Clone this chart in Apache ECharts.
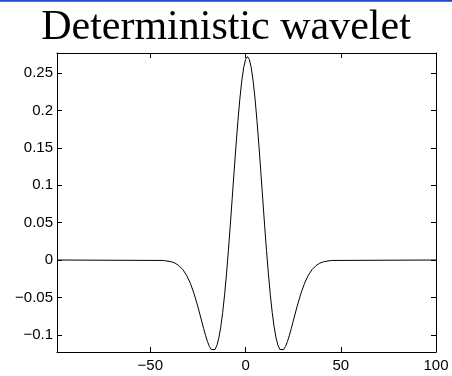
<!DOCTYPE html>
<html>
<head>
<meta charset="utf-8">
<script src="https://cdn.jsdelivr.net/npm/echarts@6/dist/echarts.min.js"></script>
<style>
  html, body { margin: 0; padding: 0; background: #fff; }
  #chart { width: 452px; height: 376px; }
</style>
</head>
<body>
<div id="chart"></div>
<script>
// sample positions (x) and wavelet amplitude
const xs = [-99, -43, -39, -37, -35, -33, -31, -29, -27, -25, -23, -22, -21, -20,
  -19, -18, -17, -16, -15, -14, -13, -12, -11, -10, -9, -8, -7, -6, -5, -4, -3, -2, -1,
  0, 1, 2, 3, 4, 5, 6, 7, 8, 9, 10, 11, 12, 13, 14, 15, 16, 17, 18, 19, 20, 21,
  22, 23, 24, 25, 27, 29, 31, 33, 35, 37, 39, 41, 45, 100];
const ys = [0, -0.0006, -0.0023, -0.0042, -0.0075, -0.0126, -0.0202, -0.0310, -0.0453, -0.0627, -0.0820, -0.0917, -0.1008, -0.1090,
  -0.1155, -0.1198, -0.1214, -0.1196, -0.1139, -0.1039, -0.0893, -0.0701, -0.0464, -0.0185, 0.0129, 0.0469, 0.0826, 0.1186, 0.1536, 0.1863, 0.2152, 0.2392, 0.2571,
  0.2682, 0.2720, 0.2682, 0.2571, 0.2392, 0.2152, 0.1863, 0.1536, 0.1186, 0.0826, 0.0469, 0.0129, -0.0185, -0.0464, -0.0701, -0.0893, -0.1039, -0.1139, -0.1196, -0.1214, -0.1198,
  -0.1155, -0.1090, -0.1008, -0.0917, -0.0820, -0.0627, -0.0453, -0.0310, -0.0202, -0.0126, -0.0075, -0.0042, -0.0023, -0.0006, 0];
const xTicks = [-50, 0, 50, 100];
const yTicks = [-0.1, -0.05, 0, 0.05, 0.1, 0.15, 0.2, 0.25];

const chart = echarts.init(document.getElementById("chart"));

const fmt = (v) => (v < 0 ? "\u2212" + String(-v) : String(v));
const boxLine = { show: true, onZero: false, lineStyle: { color: "#000", width: 1 } };
const tick = (vals) => ({ show: true, inside: true, length: 5, customValues: vals, lineStyle: { color: "#000" } });
const labelFont = { fontFamily: "Liberation Sans, Arial, sans-serif", fontSize: 15, color: "#000" };

chart.setOption({
  animation: false,
  title: {
    text: "Deterministic wavelet",
    left: "center",
    top: 2,
    textStyle: { fontFamily: "Liberation Serif, Times New Roman, serif", fontSize: 42, fontWeight: "normal", color: "#000" },
  },
  graphic: [
    {
      type: "rect",
      shape: { x: 0, y: 0, width: 452, height: 2 },
      style: {
        fill: new echarts.graphic.LinearGradient(0, 0, 0, 1, [
          { offset: 0, color: "#1030c0" },
          { offset: 1, color: "#6a88e8" },
        ]),
      },
    },
  ],
  grid: { left: 57, right: 16, top: 53, bottom: 24 },
  xAxis: [
    {
      type: "value", min: -99, max: 100, position: "bottom",
      axisLine: boxLine, splitLine: { show: false },
      axisTick: tick(xTicks),
      axisLabel: Object.assign({ customValues: xTicks, margin: 6, formatter: fmt }, labelFont),
    },
    {
      type: "value", min: -99, max: 100, position: "top",
      axisLine: boxLine, splitLine: { show: false },
      axisTick: tick(xTicks), axisLabel: { show: false },
    },
  ],
  yAxis: [
    {
      type: "value", min: -0.123, max: 0.2768, position: "left",
      axisLine: boxLine, splitLine: { show: false },
      axisTick: tick(yTicks),
      axisLabel: Object.assign({ customValues: yTicks, margin: 4, formatter: fmt }, labelFont),
    },
    {
      type: "value", min: -0.123, max: 0.2768, position: "right",
      axisLine: boxLine, splitLine: { show: false },
      axisTick: tick(yTicks), axisLabel: { show: false },
    },
  ],
  series: [
    {
      type: "line",
      data: xs.map((x, i) => [x, ys[i]]),
      showSymbol: false,
      smooth: false,
      lineStyle: { color: "#000", width: 1 },
    },
  ],
});
</script>
</body>
</html>
